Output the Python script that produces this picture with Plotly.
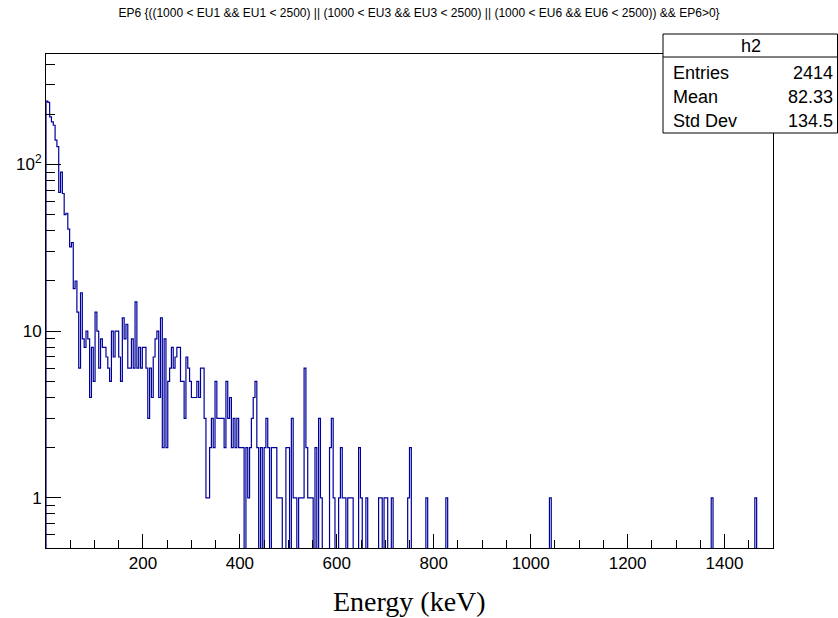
import numpy as np
import plotly.graph_objects as go

# ---------------- data ----------------
x_min, x_max, n_bins = 0.0, 1500.0, 400

# counts for bins 0..145 (3.75 keV bins)
counts_low = [
    240, 236, 193, 180, 172, 140, 128, 68, 90, 67, 50, 51, 41, 32, 34,
    18, 20, 13, 6, 17, 9, 8, 10, 9, 4, 8, 5, 13, 10, 6, 9,
    8, 8, 7, 6, 5, 10, 7, 10, 10, 7, 5, 12, 9, 11, 6, 6, 9, 6, 15, 6,
    8, 6, 8, 8, 6, 3, 6, 4, 7, 9, 10, 4, 12, 2, 9, 2, 5, 6, 8,
    6, 7, 8, 8, 5, 5, 3, 7, 6, 5, 4, 4, 4, 5, 4, 6, 6, 3, 1, 1,
    2, 3, 2, 5, 3, 3, 3, 3, 2, 5, 3, 4, 2, 3, 2, 3, 2, 2, 2, 0,
    2, 1, 2, 3, 4, 5, 2, 0, 2, 0, 2, 3, 2, 0, 2, 2, 2, 1, 1, 1,
    0, 0, 2, 2, 0, 3, 1, 1, 0, 1, 1, 1, 6, 2, 1, 1,
]
sparse_bins = [146, 148, 150, 151, 156, 157, 158, 161, 162, 163, 164, 166, 167, 168,
               172, 173, 176, 183, 184, 186, 187, 190, 199, 200, 209, 220, 277, 366, 390]
sparse_counts = [1, 2, 3, 1, 2, 3, 1, 1, 2, 1, 1, 1, 1, 1,
                 2, 1, 1, 1, 1, 1, 1, 1, 1, 2, 1, 1, 1, 1, 1]

x_tick_vals = [200, 400, 600, 800, 1000, 1200, 1400]
y_tick_vals = [1, 10, 100]
y_tick_text = ["1", "10", "10<sup>2</sup>"]

title_text = "EP6 {((1000 < EU1 && EU1 < 2500) || (1000 < EU3 && EU3 < 2500) || (1000 < EU6 && EU6 < 2500)) && EP6>0}"
stats_name = "h2"
stats_labels = ["Entries", "Mean", "Std Dev"]
stats_values = ["2414", "82.33", "134.5"]

# ---------------- build histogram ----------------
counts = np.zeros(n_bins)
counts[:len(counts_low)] = counts_low
for b, c in zip(sparse_bins, sparse_counts):
    counts[b] = c
edges = np.linspace(x_min, x_max, n_bins + 1)
yv = np.where(counts > 0, counts, 1e-3)
xs = np.concatenate([[edges[0]], edges[:-1], [edges[-1]], [edges[-1]]])
ys = np.concatenate([[1e-3], yv, [yv[-1]], [1e-3]])

fig = go.Figure()
fig.add_trace(go.Scatter(x=xs, y=ys, mode="lines", line=dict(color="#000099", width=1.2, shape="hv"),
                         hoverinfo="skip"))

W, H = 838, 618
L, R, T, B = 46, 773, 54, 548
pw, ph = R - L, B - T


def px(x):
    return (x - L) / pw


def py(y):
    return (B - y) / ph


font_sans = "Liberation Sans, Arial, Helvetica, sans-serif"

fig.update_layout(
    width=W, height=H,
    margin=dict(l=L, r=W - R, t=T, b=H - B),
    plot_bgcolor="white", paper_bgcolor="white",
    showlegend=False,
    font=dict(family=font_sans, color="black"),
    title=dict(text=title_text, x=0.5, xref="container", xanchor="center",
               y=1 - 13 / H, yref="container", yanchor="middle",
               font=dict(family=font_sans, size=12, color="black")),
)

minor_x = [v for v in range(50, 1500, 50) if v % 200 != 0]
fig.update_xaxes(
    range=[x_min, x_max], tickmode="array", tickvals=x_tick_vals,
    ticks="inside", ticklen=14, tickwidth=1, tickcolor="black",
    showline=True, linecolor="black", linewidth=1, mirror=True,
    showgrid=False, zeroline=False,
    tickfont=dict(family=font_sans, size=17, color="black"),
    minor=dict(tickmode="array", tickvals=minor_x, ticks="inside", ticklen=8,
               tickcolor="black", tickwidth=1, showgrid=False),
)

minor_y = [0.6, 0.7, 0.8, 0.9] + [d * m for m in (1, 10) for d in range(2, 10)] + [200, 300, 400]
fig.update_yaxes(
    type="log", range=[np.log10(0.5), 2.663],
    tickmode="array", tickvals=y_tick_vals, ticktext=y_tick_text,
    ticks="inside", ticklen=15, tickwidth=1, tickcolor="black",
    showline=True, linecolor="black", linewidth=1, mirror=True,
    showgrid=False, zeroline=False,
    tickfont=dict(family=font_sans, size=17, color="black"),
    minor=dict(tickmode="array", tickvals=minor_y, ticks="inside", ticklen=9,
               tickcolor="black", tickwidth=1, showgrid=False),
)

# x-axis title
fig.add_annotation(text="Energy (keV)", xref="paper", yref="paper",
                   x=0.5, y=py(601), xanchor="center", yanchor="middle", showarrow=False,
                   font=dict(family="Liberation Serif, Times New Roman, serif", size=28, color="black"))

# stats box
fig.add_shape(type="rect", xref="paper", yref="paper",
              x0=px(663), x1=px(837.5), y0=py(133), y1=py(34),
              line=dict(color="black", width=1), fillcolor="white", layer="above")
fig.add_shape(type="line", xref="paper", yref="paper",
              x0=px(663), x1=px(837.5), y0=py(57), y1=py(57),
              line=dict(color="black", width=1), layer="above")
fig.add_annotation(text=stats_name, xref="paper", yref="paper", x=px(751), y=py(46),
                   xanchor="center", yanchor="middle", showarrow=False,
                   font=dict(family=font_sans, size=18, color="black"))
row_y = [73, 97, 121]
for lab, val, yy in zip(stats_labels, stats_values, row_y):
    fig.add_annotation(text=lab, xref="paper", yref="paper", x=px(671), y=py(yy),
                       xanchor="left", yanchor="middle", showarrow=False,
                       font=dict(family=font_sans, size=18, color="black"))
    fig.add_annotation(text=val, xref="paper", yref="paper", x=px(835), y=py(yy),
                       xanchor="right", yanchor="middle", showarrow=False,
                       font=dict(family=font_sans, size=18, color="black"))

fig.write_html("out.html")
